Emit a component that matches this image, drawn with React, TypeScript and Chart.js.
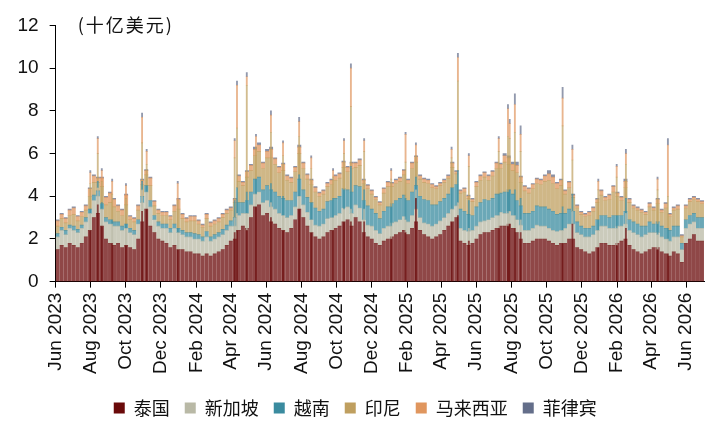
import { useEffect, useRef } from 'react';
import { Chart, registerables } from 'chart.js';

Chart.register(...registerables);

const seriesNames = ['泰国', '新加坡', '越南', '印尼', '马来西亚', '菲律宾'];
const legendColors = ['#6a0a0a', '#b9b9a6', '#3a8b9f', '#bf9f5f', '#e0965e', '#646e8a'];

const tickLabels = [
  'Jun 2023', 'Aug 2023', 'Oct 2023', 'Dec 2023', 'Feb 2024', 'Apr 2024', 'Jun 2024',
  'Aug 2024', 'Oct 2024', 'Dec 2024', 'Feb 2025', 'Apr 2025', 'Jun 2025', 'Aug 2025',
  'Oct 2025', 'Dec 2025', 'Feb 2026', 'Apr 2026', 'Jun 2026',
];

// weekly levels (十亿美元), first week starts 1 Jun 2023
const thailand = [
  1.5, 1.7, 1.6, 1.8, 1.7, 1.6, 1.8, 2.1, 2.4, 3.0,
  3.2, 2.6, 2.0, 1.8, 1.7, 1.8, 1.6, 1.7, 1.6, 1.5,
  2.0, 2.8, 3.4, 2.6, 2.3, 2.0, 1.9, 1.8, 1.6, 1.7,
  1.5, 1.5, 1.4, 1.4, 1.3, 1.3, 1.2, 1.3, 1.2, 1.3,
  1.4, 1.5, 1.7, 1.9, 2.0, 2.4, 2.6, 2.5, 3.0, 3.5,
  3.6, 3.1, 3.2, 2.8, 2.7, 2.5, 2.4, 2.3, 2.5, 2.9,
  3.4, 3.0, 2.6, 2.3, 2.1, 2.0, 2.1, 2.3, 2.4, 2.5,
  2.6, 2.8, 2.9, 2.6, 3.0, 2.8, 2.3, 2.1, 2.0,
  1.8, 1.7, 1.9, 2.0, 2.1, 2.2, 2.3, 2.4, 2.2, 2.5,
  2.8, 2.4, 2.2, 2.1, 2.0, 2.1, 2.2, 2.4, 2.6, 2.8,
  3.0, 1.9, 1.8, 1.7, 1.8, 2.0, 2.2, 2.3, 2.3, 2.4,
  2.5, 2.6, 2.6, 2.7, 2.5, 2.3, 2.0, 1.8, 1.8, 1.9,
  2.0, 2.0, 2.0, 1.9, 1.8, 1.7, 1.8, 1.8, 2.0, 2.0,
  1.6, 1.5, 1.4, 1.3, 1.4, 1.6, 1.8, 1.8, 1.7, 1.7,
  1.8, 1.9, 2.0, 1.7, 1.5, 1.4, 1.3, 1.4, 1.5, 1.6,
  1.6, 1.4, 1.3, 1.2, 1.4, 1.3, 0.9, 1.8, 2.0, 2.2, 1.9, 1.9,
];
const singapore = [
  0.6, 0.7, 0.6, 0.7, 0.7, 0.7, 0.7, 0.7, 0.8, 0.8,
  0.8, 0.8, 0.8, 0.9, 0.9, 0.8, 0.8, 0.8, 0.7, 0.7,
  0.7, 0.9, 0.8, 0.9, 0.6, 0.6, 0.6, 0.7, 0.7, 0.8,
  0.8, 0.7, 0.7, 0.7, 0.7, 0.7, 0.7, 0.8, 0.7, 0.7,
  0.7, 0.7, 0.7, 0.7, 0.6, 0.7, 0.6, 0.7, 0.6, 0.6,
  0.6, 0.6, 0.6, 0.7, 0.7, 0.7, 0.7, 0.7, 0.6, 0.6,
  0.6, 0.6, 0.65, 0.6, 0.55, 0.6, 0.6, 0.65, 0.6, 0.6,
  0.6, 0.65, 0.6, 0.6, 0.6, 0.65, 0.6, 0.55, 0.6,
  0.6, 0.55, 0.6, 0.6, 0.65, 0.6, 0.6, 0.65, 0.6, 0.6,
  0.6, 0.6, 0.55, 0.6, 0.6, 0.6, 0.65, 0.6, 0.6, 0.6,
  0.55, 0.6, 0.6, 0.65, 0.6, 0.6, 0.6, 0.55, 0.6, 0.6,
  0.6, 0.65, 0.6, 0.6, 0.6, 0.6, 0.65, 0.6, 0.6, 0.6,
  0.65, 0.6, 0.6, 0.6, 0.6, 0.65, 0.6, 0.7, 0.7, 0.7,
  0.7, 0.7, 0.7, 0.8, 0.8, 0.8, 0.8, 0.8, 0.8, 0.8,
  0.8, 0.7, 0.7, 0.7, 0.8, 0.8, 0.8, 0.8, 0.8, 0.7,
  0.7, 0.7, 0.7, 0.7, 0.7, 0.8, 0.6, 0.7, 0.7, 0.6, 0.6, 0.6,
];
const vietnam = [
  0.15, 0.15, 0.2, 0.15, 0.2, 0.15, 0.15, 0.2, 0.2, 0.25,
  0.25, 0.25, 0.2, 0.2, 0.2, 0.2, 0.2, 0.2, 0.2, 0.2,
  0.2, 0.3, 0.3, 0.3, 0.2, 0.2, 0.2, 0.2, 0.2, 0.2,
  0.2, 0.2, 0.2, 0.2, 0.25, 0.2, 0.2, 0.25, 0.2, 0.2,
  0.2, 0.25, 0.25, 0.25, 0.4, 0.6, 0.5, 0.6, 0.6, 0.7,
  0.7, 0.6, 0.7, 0.8, 0.8, 0.8, 0.8, 0.8, 0.7, 0.7,
  0.8, 0.7, 0.7, 0.8, 0.8, 0.7, 0.7, 0.8, 0.8, 0.8,
  0.8, 0.9, 0.8, 1.0, 0.9, 1.0, 0.9, 0.9, 0.8,
  0.8, 0.7, 0.8, 0.9, 0.9, 1.0, 1.0, 1.0, 1.0, 1.1,
  1.1, 1.0, 1.1, 1.1, 1.0, 0.9, 0.9, 0.9, 0.9, 1.0,
  1.0, 0.9, 0.9, 0.8, 0.7, 0.9, 0.9, 1.0, 0.9, 0.9,
  1.0, 0.9, 1.0, 1.0, 1.0, 0.9, 0.9, 0.8, 0.8, 0.8,
  0.9, 0.9, 0.9, 0.9, 0.9, 0.8, 0.8, 0.7, 0.7, 0.6,
  0.5, 0.4, 0.4, 0.4, 0.4, 0.5, 0.5, 0.5, 0.5, 0.6,
  0.5, 0.5, 0.6, 0.5, 0.5, 0.5, 0.5, 0.4, 0.5, 0.4,
  0.5, 0.5, 0.5, 0.5, 0.5, 0.5, 0.3, 0.4, 0.4, 0.4, 0.5, 0.5,
];
const indonesia = [
  0.35, 0.4, 0.35, 0.45, 0.55, 0.4, 0.4, 0.35, 0.6, 0.6,
  0.4, 0.8, 0.6, 0.8, 0.7, 0.5, 0.5, 0.9, 0.4, 0.4,
  0.45, 0.55, 0.5, 0.7, 0.45, 0.4, 0.4, 0.4, 0.4, 0.6,
  0.9, 0.55, 0.5, 0.55, 0.6, 0.5, 0.45, 0.6, 0.5, 0.5,
  0.5, 0.55, 0.55, 0.5, 0.7, 1.0, 0.8, 1.1, 1.0, 1.1,
  1.2, 1.0, 1.3, 1.5, 1.3, 1.1, 1.3, 0.95, 0.85, 0.95,
  1.2, 1.0, 0.85, 0.85, 0.75, 0.7, 0.7, 0.7, 0.75, 0.85,
  0.85, 1.0, 0.85, 1.1, 0.85, 1.0, 0.8, 0.8, 0.7,
  0.65, 0.65, 0.85, 0.95, 0.8, 0.8, 0.8, 0.95, 0.8, 1.1,
  1.1, 0.8, 0.8, 0.8, 0.8, 0.75, 0.75, 0.75, 0.75, 0.95,
  0.5, 0.75, 0.9, 0.75, 0.65, 0.95, 1.05, 1.05, 0.95, 1.05,
  1.2, 1.15, 1.4, 1.2, 1.1, 1.3, 1.1, 1.05, 0.95, 1.05,
  1.05, 1.05, 1.2, 1.35, 1.3, 1.2, 1.3, 0.9, 1.0, 0.65,
  0.65, 0.55, 0.55, 0.6, 0.7, 0.8, 0.95, 0.7, 0.85, 1.1,
  0.9, 0.7, 1.1, 0.8, 0.65, 0.65, 0.65, 0.55, 0.7, 0.65,
  0.85, 0.65, 0.95, 0.65, 0.75, 0.8, 0.3, 0.55, 0.65, 0.65, 0.75, 0.65,
];
const malaysia = [
  0.25, 0.2, 0.2, 0.25, 0.3, 0.2, 0.2, 0.2, 0.35, 0.3,
  0.2, 0.4, 0.35, 0.45, 0.35, 0.25, 0.25, 0.45, 0.15, 0.15,
  0.2, 0.2, 0.2, 0.35, 0.2, 0.15, 0.15, 0.15, 0.15, 0.25,
  0.45, 0.2, 0.15, 0.2, 0.2, 0.15, 0.1, 0.2, 0.15, 0.15,
  0.15, 0.15, 0.15, 0.1, 0.15, 0.25, 0.15, 0.25, 0.25, 0.3,
  0.3, 0.25, 0.3, 0.4, 0.25, 0.25, 0.3, 0.2, 0.2, 0.2,
  0.3, 0.25, 0.2, 0.2, 0.2, 0.15, 0.15, 0.15, 0.2, 0.2,
  0.2, 0.25, 0.2, 0.25, 0.2, 0.25, 0.15, 0.15, 0.15,
  0.1, 0.1, 0.2, 0.2, 0.15, 0.15, 0.15, 0.2, 0.15, 0.25,
  0.25, 0.15, 0.15, 0.15, 0.15, 0.1, 0.1, 0.1, 0.1, 0.2,
  0.1, 0.1, 0.15, 0.1, 0.1, 0.2, 0.2, 0.2, 0.2, 0.2,
  0.25, 0.2, 0.3, 0.3, 0.3, 0.35, 0.25, 0.2, 0.2, 0.2,
  0.2, 0.2, 0.25, 0.3, 0.3, 0.25, 0.25, 0.15, 0.25, 0.1,
  0.1, 0.1, 0.1, 0.15, 0.15, 0.15, 0.2, 0.15, 0.2, 0.25,
  0.15, 0.15, 0.3, 0.15, 0.1, 0.1, 0.1, 0.1, 0.15, 0.1,
  0.2, 0.1, 0.2, 0.1, 0.1, 0.15, 0.05, 0.1, 0.1, 0.1, 0.1, 0.1,
];
const philippines = [
  0.05, 0.05, 0.05, 0.05, 0.05, 0.05, 0.05, 0.05, 0.05, 0.05,
  0.05, 0.05, 0.05, 0.05, 0.05, 0.05, 0.05, 0.05, 0.05, 0.05,
  0.05, 0.05, 0.05, 0.05, 0.05, 0.05, 0.05, 0.05, 0.05, 0.05,
  0.05, 0.05, 0.05, 0.05, 0.05, 0.05, 0.05, 0.05, 0.05, 0.05,
  0.05, 0.05, 0.05, 0.05, 0.05, 0.05, 0.05, 0.05, 0.05, 0.1,
  0.1, 0.05, 0.1, 0.1, 0.05, 0.05, 0.05, 0.05, 0.05, 0.05,
  0.1, 0.05, 0.05, 0.05, 0.05, 0.05, 0.05, 0.05, 0.05, 0.05,
  0.05, 0.05, 0.05, 0.05, 0.05, 0.05, 0.05, 0.05, 0.05,
  0.05, 0.05, 0.05, 0.05, 0.05, 0.05, 0.05, 0.05, 0.05, 0.05,
  0.05, 0.05, 0.05, 0.05, 0.05, 0.05, 0.05, 0.05, 0.05, 0.05,
  0.05, 0.05, 0.05, 0.05, 0.05, 0.05, 0.05, 0.05, 0.05, 0.05,
  0.05, 0.05, 0.1, 0.1, 0.1, 0.15, 0.05, 0.05, 0.05, 0.05,
  0.05, 0.05, 0.05, 0.15, 0.1, 0.05, 0.05, 0.05, 0.05, 0.05,
  0.05, 0.05, 0.05, 0.05, 0.05, 0.05, 0.05, 0.05, 0.05, 0.05,
  0.05, 0.05, 0.1, 0.05, 0.05, 0.05, 0.05, 0.05, 0.05, 0.05,
  0.05, 0.05, 0.05, 0.05, 0.05, 0.05, 0.05, 0.05, 0.05, 0.05, 0.05, 0.05,
];

// single-day spikes, days after 1 Jun 2023
const spikeDays = [
  60, 73, 80, 150, 158, 212, 311, 315, 332, 348, 374, 423, 501, 513, 536, 626, 699, 718, 770, 786,
  789, 798, 808, 881, 898, 975, 991, 1046, 1064, 98, 122, 395, 444, 482, 583, 608, 688, 943,
];
const spikeThailand = [
  2.4, 3.6, 2.6, 3.3, 3.4, 1.5, 2.3, 2.4, 2.4, 3.5, 3.0, 3.4, 2.8, 2.8, 2.8, 3.9, 3.1, 1.9, 2.5, 2.6,
  2.7, 2.5, 2.3, 1.8, 2.7, 1.7, 2.5, 1.5, 1.3, 1.8, 1.7, 2.4, 2.3, 2.4, 2.0, 2.3, 2.8, 1.6,
];
const spikeSingapore = [
  0.8, 0.8, 0.8, 1.0, 0.8, 0.8, 0.7, 0.8, 0.8, 0.6, 0.7, 0.6, 0.6, 0.6, 0.6, 0.4, 0.6, 0.6, 0.6, 0.6,
  0.6, 0.6, 0.6, 0.6, 0.6, 0.8, 0.7, 0.7, 0.7, 0.9, 0.8, 0.7, 0.6, 0.6, 0.6, 0.6, 0.6, 0.8,
];
const spikeVietnam = [
  0.2, 0.3, 0.3, 0.4, 0.3, 0.2, 0.8, 1.2, 1.0, 0.7, 0.9, 1.0, 0.9, 2.0, 0.9, 0.6, 1.5, 1.3, 1.0, 1.0,
  1.0, 1.2, 1.0, 1.1, 0.8, 0.6, 0.7, 0.5, 0.5, 0.2, 0.2, 0.9, 0.8, 0.9, 0.9, 1.0, 1.0, 0.5,
];
const spikeIndonesia = [
  1.2, 1.3, 1.0, 1.8, 1.0, 1.3, 2.0, 2.8, 5.0, 1.5, 2.4, 1.8, 1.7, 2.8, 1.8, 1.0, 4.2, 1.6, 2.0, 2.6,
  2.4, 2.7, 2.2, 3.8, 1.6, 1.8, 1.6, 1.6, 1.5, 1.2, 1.2, 1.9, 1.6, 1.0, 1.3, 1.7, 1.4, 1.4,
];
const spikeMalaysia = [
  0.5, 0.7, 0.5, 1.2, 0.6, 0.8, 0.8, 2.0, 0.4, 0.5, 0.8, 0.7, 0.6, 1.8, 0.5, 0.5, 1.1, 0.5, 0.6, 1.3,
  0.7, 1.3, 0.8, 1.3, 0.5, 0.5, 0.5, 0.5, 2.4, 0.6, 0.6, 0.6, 0.5, 0.3, 0.4, 1.3, 0.4, 0.4,
];
const spikePhilippines = [
  0.1, 0.1, 0.1, 0.2, 0.1, 0.1, 0.1, 0.2, 0.2, 0.1, 0.2, 0.2, 0.1, 0.2, 0.1, 0.1, 0.2, 0.1, 0.1, 0.2,
  0.2, 0.5, 0.4, 0.5, 0.2, 0.1, 0.2, 0.1, 0.3, 0.1, 0.1, 0.1, 0.1, 0.1, 0.1, 0.1, 0.1, 0.1,
];

const monthIndex: Record<string, number> = {
  Jan: 0, Feb: 1, Mar: 2, Apr: 3, May: 4, Jun: 5, Jul: 6, Aug: 7, Sep: 8, Oct: 9, Nov: 10, Dec: 11,
};
const startUtc = Date.UTC(2023, 5, 1);
const tickDays = tickLabels.map((label) => {
  const [m, y] = label.split(' ');
  return (Date.UTC(Number(y), monthIndex[m], 1) - startUtc) / 86400000;
});

function withAlpha(hex: string, a: number) {
  const n = parseInt(hex.slice(1), 16);
  return `rgba(${(n >> 16) & 255}, ${(n >> 8) & 255}, ${n & 255}, ${a})`;
}

const tickFont = { family: '"Liberation Sans", Arial, sans-serif', size: 19 };

const unitLabel = {
  id: 'unitLabel',
  afterDraw(chart: Chart) {
    const { ctx, chartArea } = chart;
    ctx.save();
    ctx.font = '18px "Noto Sans CJK SC"';
    (ctx as any).letterSpacing = '2px';
    ctx.fillStyle = '#111';
    ctx.textBaseline = 'middle';
    ctx.fillText('(十亿美元)', chartArea.left + 22, 25);
    ctx.restore();
  },
};

export default function App() {
  const canvasRef = useRef<HTMLCanvasElement>(null);
  const chartRef = useRef<Chart | null>(null);

  useEffect(() => {
    document.body.style.margin = '0';
    if (!canvasRef.current) return;

    const weekly = [thailand, singapore, vietnam, indonesia, malaysia, philippines];
    const spikes = [spikeThailand, spikeSingapore, spikeVietnam, spikeIndonesia, spikeMalaysia, spikePhilippines];

    const datasets: any[] = [
      ...weekly.map((values, k) => ({
        label: seriesNames[k],
        data: values.map((v, i) => ({ x: i * 7 + 3.5, y: v })),
        backgroundColor: withAlpha(legendColors[k], 0.75),
        borderWidth: 0,
        barThickness: 3.3,
        order: 1,
      })),
      ...spikes.map((values, k) => ({
        label: seriesNames[k] + ' ',
        data: values.map((v, i) => ({ x: spikeDays[i] + 0.25, y: v })),
        backgroundColor: withAlpha(legendColors[k], 0.7),
        borderWidth: 0,
        barThickness: 1.2,
        order: 0,
      })),
    ];

    if (chartRef.current) chartRef.current.destroy();
    chartRef.current = new Chart(canvasRef.current, {
      type: 'bar',
      data: { datasets },
      plugins: [unitLabel],
      options: {
        animation: false,
        responsive: true,
        maintainAspectRatio: false,
        events: [],
        layout: { padding: { left: 6.5, right: 23, top: 25.5, bottom: 13 } },
        plugins: {
          tooltip: { enabled: false },
          legend: {
            position: 'bottom',
            labels: {
              boxWidth: 11,
              boxHeight: 11,
              padding: 15,
              color: '#111',
              font: { family: '"Noto Sans CJK SC", sans-serif', size: 18 },
              generateLabels: (chart: Chart) =>
                Chart.defaults.plugins.legend.labels
                  .generateLabels(chart)
                  .filter((item) => (item.datasetIndex ?? 0) < 6)
                  .map((item) => ({
                    ...item,
                    fillStyle: legendColors[item.datasetIndex ?? 0],
                    strokeStyle: legendColors[item.datasetIndex ?? 0],
                    lineWidth: 0,
                  })),
            },
          },
        },
        scales: {
          x: {
            type: 'linear',
            stacked: true,
            min: 0,
            max: 1127,
            offset: false,
            afterBuildTicks: (scale: any) => {
              scale.ticks = tickDays.map((value) => ({ value }));
            },
            afterFit: (scale: any) => {
              scale.height += 5;
            },
            ticks: {
              autoSkip: false,
              minRotation: 90,
              maxRotation: 90,
              padding: 5,
              color: '#111',
              font: tickFont,
              callback: (_v: any, i: number) => tickLabels[i],
            },
            grid: { drawOnChartArea: false, tickLength: 6, color: '#000', offset: false },
            border: { color: '#000', width: 1 },
          },
          y: {
            stacked: true,
            min: 0,
            max: 12,
            ticks: { stepSize: 2, padding: 11, color: '#111', font: tickFont },
            grid: { drawOnChartArea: false, tickLength: 6, color: '#000' },
            border: { color: '#000', width: 1 },
          },
        },
      },
    } as any);

    return () => {
      if (chartRef.current) {
        chartRef.current.destroy();
        chartRef.current = null;
      }
    };
  }, []);

  return (
    <div style={{ position: 'relative', width: 727, height: 440 }}>
      <canvas ref={canvasRef} />
    </div>
  );
}
